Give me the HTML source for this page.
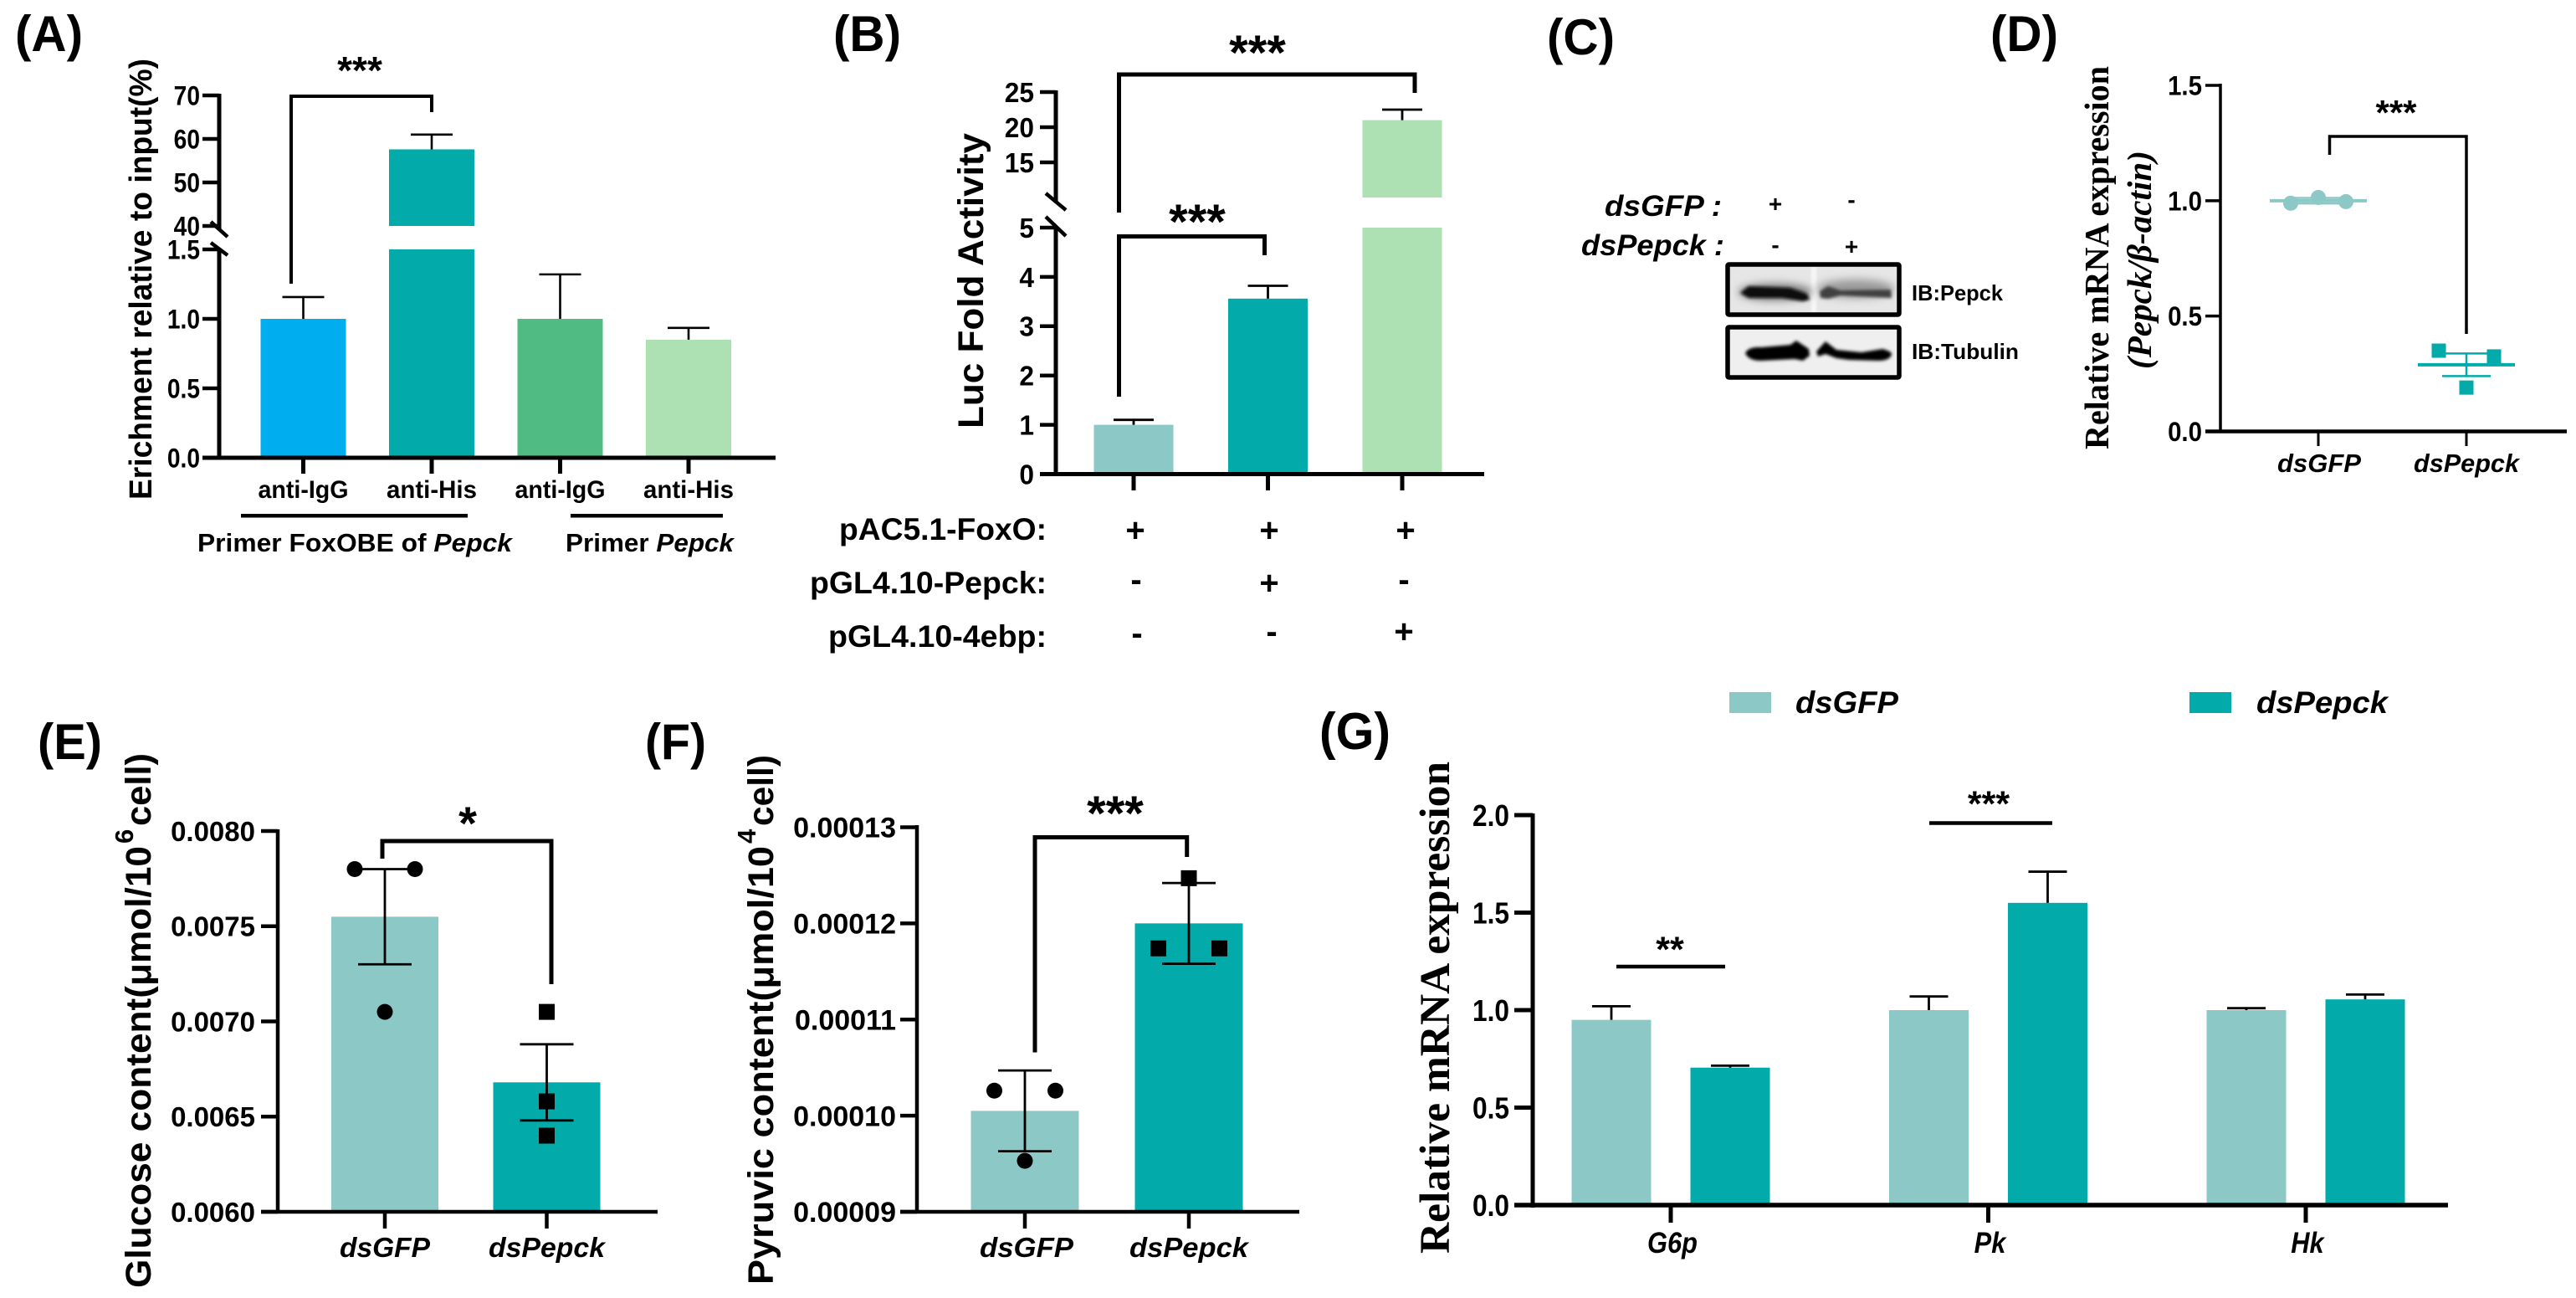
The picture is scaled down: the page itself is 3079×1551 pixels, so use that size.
<!DOCTYPE html>
<html lang="en">
<head>
<meta charset="utf-8">
<title>Pepck figure panels</title>
<style>
html,body{margin:0;padding:0;background:#fff;}
svg{display:block;}
text{font-family:"Liberation Sans","Noto Sans CJK SC",sans-serif;font-weight:700;fill:#000;}
.serif{font-family:"Liberation Serif",serif;}
</style>
</head>
<body>
<svg id="fig" xmlns="http://www.w3.org/2000/svg" width="3079" height="1551" viewBox="0 0 3079 1551">
<defs>
<filter id="blur4" x="-20%" y="-80%" width="140%" height="260%"><feGaussianBlur stdDeviation="5"/></filter>
<filter id="blur2" x="-20%" y="-80%" width="140%" height="260%"><feGaussianBlur stdDeviation="1.8"/></filter>
</defs>
<rect x="0" y="0" width="3079" height="1551" fill="#fff"/>

<!-- Panel letters -->
<text x="18" y="61" font-size="60" textLength="81" lengthAdjust="spacingAndGlyphs">(A)</text>
<text x="996" y="61" font-size="60" textLength="81" lengthAdjust="spacingAndGlyphs">(B)</text>
<text x="1849" y="65" font-size="60" textLength="81" lengthAdjust="spacingAndGlyphs">(C)</text>
<text x="2379" y="61" font-size="60" textLength="81" lengthAdjust="spacingAndGlyphs">(D)</text>
<text x="45" y="907" font-size="60" textLength="77" lengthAdjust="spacingAndGlyphs">(E)</text>
<text x="771" y="907" font-size="60" textLength="73" lengthAdjust="spacingAndGlyphs">(F)</text>
<text x="1577" y="895" font-size="62" textLength="85" lengthAdjust="spacingAndGlyphs">(G)</text>

<!-- Axis titles -->
<text transform="translate(181,597) rotate(-90)" font-size="38" textLength="527" lengthAdjust="spacingAndGlyphs">Erichment relative to input(%)</text>
<text transform="translate(1175,512) rotate(-90)" font-size="43" textLength="353" lengthAdjust="spacingAndGlyphs">Luc Fold Activity</text>
<text class="serif" transform="translate(2520,537) rotate(-90)" font-size="41" textLength="458" lengthAdjust="spacingAndGlyphs">Relative mRNA expression</text>
<text class="serif" font-style="italic" transform="translate(2571,441) rotate(-90)" font-size="41" textLength="261" lengthAdjust="spacingAndGlyphs">(Pepck/β-actin)</text>
<text transform="translate(180,1539) rotate(-90)" font-size="43" textLength="528" lengthAdjust="spacingAndGlyphs">Glucose content(μmol/10</text>
<text transform="translate(159,1008) rotate(-90)" font-size="31">6</text>
<text transform="translate(180,987) rotate(-90)" font-size="43" textLength="87" lengthAdjust="spacingAndGlyphs">cell)</text>
<text transform="translate(924,1535) rotate(-90)" font-size="43" textLength="524" lengthAdjust="spacingAndGlyphs">Pyruvic content(μmol/10</text>
<text transform="translate(903,1008) rotate(-90)" font-size="31">4</text>
<text transform="translate(924,987) rotate(-90)" font-size="43" textLength="85" lengthAdjust="spacingAndGlyphs">cell)</text>
<text class="serif" transform="translate(1732,1498) rotate(-90)" font-size="51" textLength="588" lengthAdjust="spacingAndGlyphs">Relative mRNA expression</text>

<!-- Panel A group annotation -->
<rect x="288" y="614" width="271" height="4.5" fill="#000"/>
<rect x="682" y="614" width="182" height="4.5" fill="#000"/>
<text x="236" y="659" font-size="31" textLength="376" lengthAdjust="spacingAndGlyphs">Primer FoxOBE of <tspan font-style="italic">Pepck</tspan></text>
<text x="676" y="659" font-size="31" textLength="201" lengthAdjust="spacingAndGlyphs">Primer <tspan font-style="italic">Pepck</tspan></text>

<!-- Panel B treatment table -->
<text x="1003" y="645" font-size="37" textLength="248" lengthAdjust="spacingAndGlyphs">pAC5.1-FoxO:</text>
<text x="968" y="709" font-size="37" textLength="283" lengthAdjust="spacingAndGlyphs">pGL4.10-Pepck:</text>
<text x="990" y="773" font-size="37" textLength="261" lengthAdjust="spacingAndGlyphs">pGL4.10-4ebp:</text>
<g font-size="40" text-anchor="middle">
<text x="1357" y="647">+</text>
<text x="1517" y="647">+</text>
<text x="1680" y="647">+</text>
<text x="1358" y="706">-</text>
<text x="1517" y="710">+</text>
<text x="1678" y="706">-</text>
<text x="1359" y="770">-</text>
<text x="1520" y="768">-</text>
<text x="1678" y="768">+</text>
</g>

<!-- Panel C western blot -->
<text x="1918" y="258" font-size="35" font-style="italic" textLength="140" lengthAdjust="spacingAndGlyphs">dsGFP :</text>
<text x="1890" y="305" font-size="35" font-style="italic" textLength="171" lengthAdjust="spacingAndGlyphs">dsPepck :</text>
<g font-size="28" text-anchor="middle">
<text x="2122" y="253">+</text>
<text x="2213" y="248">-</text>
<text x="2122" y="302">-</text>
<text x="2213" y="304">+</text>
</g>
<g>
<rect x="2065" y="316" width="205" height="60" fill="#e6e6e6"/>
<rect x="2165" y="318" width="6" height="56" fill="#f8f8f8" filter="url(#blur2)"/>
<ellipse cx="2122" cy="349" rx="44" ry="10" fill="#777" filter="url(#blur4)"/>
<ellipse cx="2218" cy="345" rx="46" ry="11" fill="#999" filter="url(#blur4)"/>
<path d="M2080 350 L2090 342 L2140 344 L2160 351 L2163 358 L2155 360 L2130 356 L2090 356 Z" fill="#0c0c0c" filter="url(#blur2)"/>
<path d="M2175 348 L2185 342 L2200 347 L2260 346 L2261 356 L2200 353 L2185 357 L2176 356 Z" fill="#404040" filter="url(#blur2)"/>
<rect x="2065" y="316" width="205" height="60" rx="1.5" fill="none" stroke="#000" stroke-width="5.5"/>
</g>
<g>
<rect x="2065" y="391" width="205" height="60" fill="#efefef"/>
<path d="M2086 422 Q2090 414 2105 415 L2140 412 L2147 407 L2162 417 L2163 425 L2155 431 L2145 429 L2105 431 Q2090 431 2086 422 Z" fill="#000" filter="url(#blur2)"/>
<path d="M2171 420 L2182 408 L2195 418 L2225 421 L2250 417 Q2262 420 2261 424 Q2258 431 2245 431 L2210 430 L2195 428 L2182 423 L2173 426 Z" fill="#000" filter="url(#blur2)"/>
<rect x="2065" y="391" width="205" height="60" rx="1.5" fill="none" stroke="#000" stroke-width="5.5"/>
</g>
<text x="2285" y="359" font-size="26" textLength="109" lengthAdjust="spacingAndGlyphs">IB:Pepck</text>
<text x="2285" y="429" font-size="26" textLength="128" lengthAdjust="spacingAndGlyphs">IB:Tubulin</text>

<!-- Panel G legend -->
<g>
<rect x="2067" y="827" width="50" height="25" fill="#8cc9c6"/>
<text x="2146" y="852" font-size="37" font-style="italic" textLength="123" lengthAdjust="spacingAndGlyphs">dsGFP</text>
<rect x="2617" y="827" width="50" height="25" fill="#02aba9"/>
<text x="2697" y="852" font-size="37" font-style="italic" textLength="157" lengthAdjust="spacingAndGlyphs">dsPepck</text>
</g>

<g id="plots"></g>
</svg>

<script>
// ---------- Panel A ----------
const catsA = ['anti-IgG', 'anti-His', 'anti-IgG', 'anti-His'];
const valsA = [1.0, 57.6, 1.0, 0.85];
const errA = [0.157, 3.4, 0.32, 0.085];
const ticksLowA = ['0.0', '0.5', '1.0', '1.5'];
const ticksHighA = ['40', '50', '60', '70'];
// ---------- Panel B ----------
const valsB = [1.0, 3.56, 21];
const errB = [0.1, 0.26, 1.5];
const ticksLowB = ['0', '1', '2', '3', '4', '5'];
const ticksHighB = ['15', '20', '25'];
// ---------- Panel D ----------
const catsD = ['dsGFP', 'dsPepck'];
const pointsD1 = [0.989, 1.014, 0.996];
const pointsD2 = [0.35, 0.19, 0.325];
const meansD = [1.0, 0.289];
const errD = [0.012, 0.049];
const ticksD = ['0.0', '0.5', '1.0', '1.5'];
// ---------- Panel E ----------
const catsE = ['dsGFP', 'dsPepck'];
const valsE = [0.00755, 0.00668];
const errE = [0.00025, 0.0002];
const pointsE1 = [0.0078, 0.00705, 0.0078];
const pointsE2 = [0.0064, 0.00705, 0.00658];
const ticksE = ['0.0060', '0.0065', '0.0070', '0.0075', '0.0080'];
// ---------- Panel F ----------
const catsF = ['dsGFP', 'dsPepck'];
const valsF = [0.0001005, 0.00012];
const errF = [0.0000042, 0.0000042];
const pointsF1 = [0.0001026, 0.0000953, 0.0001026];
const pointsF2 = [0.0001174, 0.0001247, 0.0001174];
const ticksF = ['0.00009', '0.00010', '0.00011', '0.00012', '0.00013'];
// ---------- Panel G ----------
const catsG = ['G6p', 'Pk', 'Hk'];
const valsGfp = [0.95, 1.0, 1.0];
const valsPepck = [0.705, 1.55, 1.055];
const errGfp = [0.07, 0.07, 0.01];
const errPepck = [0.01, 0.16, 0.025];
const ticksG = ['0.0', '0.5', '1.0', '1.5', '2.0'];

const NS = 'http://www.w3.org/2000/svg';
const root = document.getElementById('plots');
const LIGHT = '#8cc9c6', TEAL = '#02aba9', BLUE = '#00aeef', GREEN = '#50bc84', PALE = '#ade0b2';

function make(tag, attrs, name, parent) {
  const el = document.createElementNS(NS, tag);
  
  
  for (const k in attrs) el.setAttribute(k, attrs[k]);
  (parent || root).appendChild(el);
  return el;
}
function linear(d0, d1, r0, r1) { return v => r0 + (v - d0) * (r1 - r0) / (d1 - d0); }
function line(x1, y1, x2, y2, w, name, color) {
  return make('line', {x1: x1, y1: y1, x2: x2, y2: y2, stroke: color || '#000', 'stroke-width': w}, name);
}
function label(str, x, y, size, name, opts) {
  const o = opts || {};
  const attrs = {x: x, y: y, 'font-size': size, 'text-anchor': o.anchor || 'middle'};
  if (o.italic) attrs['font-style'] = 'italic';
  if (o.len) { attrs.textLength = o.len; attrs.lengthAdjust = 'spacingAndGlyphs'; }
  const el = make('text', attrs, name);
  el.textContent = str;
  if (o.squash) {
    el.setAttribute('textLength', el.getComputedTextLength() * o.squash);
    el.setAttribute('lengthAdjust', 'spacingAndGlyphs');
  }
  return el;
}
function bar(x, w, yTop, yBottom, color, name) {
  return make('rect', {x: x - w / 2, y: Math.min(yTop, yBottom), width: w, height: Math.abs(yBottom - yTop), fill: color}, name);
}
function bracket(x1, y1, yTop, x2, y2, w, name) {
  return make('path', {d: 'M' + x1 + ' ' + y1 + 'V' + yTop + 'H' + x2 + 'V' + y2, fill: 'none', stroke: '#000', 'stroke-width': w}, name);
}
function yTicks(list, scale, xAxis, len, w, size, gap, prefix, squash) {
  list.forEach(t => {
    const y = scale(Number(t));
    line(xAxis - len, y, xAxis, y, w, prefix + '-tick-' + t);
    label(t, xAxis - len - gap, y + size * 0.36, size, prefix + '-tick-label-' + t, {anchor: 'end', squash: squash});
  });
}
function errorBar(x, yA, yB, capHalf, w, name) {
  line(x, yA, x, yB, w, name + '-stem');
  line(x - capHalf, yB, x + capHalf, yB, w, name + '-cap');
}
function dot(x, y, r, color, name) { return make('circle', {cx: x, cy: y, r: r, fill: color}, name); }
function square(x, y, s, color, name) { return make('rect', {x: x - s / 2, y: y - s / 2, width: s, height: s, fill: color}, name); }

// ===== Panel A =====
(function () {
  const low = linear(0, 1.5, 547, 298), high = linear(40, 70, 270, 114);
  const y = v => v <= 1.5 ? low(v) : high(v);
  const xA = i => 362.5 + i * 153.5;
  const colors = [BLUE, TEAL, GREEN, PALE];
  valsA.forEach((v, i) => {
    if (v > 1.5) {
      bar(xA(i), 102, low(1.5), low(0), colors[i], 'bar-a-lower-' + i);
      bar(xA(i), 102, high(v), high(40), colors[i], 'bar-a-upper-' + i);
    } else {
      bar(xA(i), 102, low(v), low(0), colors[i], 'bar-a-' + i);
    }
    errorBar(xA(i), y(v), y(v + errA[i]), 25, 2.6, 'error-a-' + i);
    line(xA(i), 547, xA(i), 566, 5, 'x-tick-a-' + i);
    label(catsA[i], xA(i), 595, 30, 'x-label-a-' + i, {len: 108});
  });
  line(262, 112, 262, 274, 5, 'y-axis-a-upper');
  line(262, 297, 262, 549, 5, 'y-axis-a-lower');
  line(242, 547, 927, 547, 5, 'x-axis-a');
  line(252, 265, 272, 283, 4.5, 'axis-break-a-1');
  line(252, 290, 272, 305, 4.5, 'axis-break-a-2');
  yTicks(ticksLowA, low, 262, 20, 4.5, 32, 3, 'y-a-low', 0.88);
  yTicks(ticksHighA, high, 262, 20, 4.5, 32, 3, 'y-a-high', 0.88);
  bracket(348, 339, 115, 516, 134, 4, 'bracket-a');
  label('***', 430, 100, 46, 'sig-a');
})();

// ===== Panel B =====
(function () {
  const low = linear(0, 5, 566.5, 272), high = linear(15, 25, 194, 110);
  const y = v => v <= 5 ? low(v) : high(v);
  const xB = i => 1355 + i * 160.5;
  const colors = [LIGHT, TEAL, PALE];
  valsB.forEach((v, i) => {
    if (v > 5) {
      bar(xB(i), 95, low(5), low(0), colors[i], 'bar-b-lower-' + i);
      bar(xB(i), 95, high(v), high(10), colors[i], 'bar-b-upper-' + i);
    } else {
      bar(xB(i), 95, low(v), low(0), colors[i], 'bar-b-' + i);
    }
    errorBar(xB(i), y(v), y(v + errB[i]), 24, 2.8, 'error-b-' + i);
    line(xB(i), 566.5, xB(i), 586, 5, 'x-tick-b-' + i);
  });
  line(1262, 108, 1262, 241, 5, 'y-axis-b-upper');
  line(1262, 270, 1262, 569, 5, 'y-axis-b-lower');
  line(1243, 566.5, 1774, 566.5, 5, 'x-axis-b');
  line(1250, 231, 1274, 251, 4.5, 'axis-break-b-1');
  line(1250, 259, 1274, 282, 4.5, 'axis-break-b-2');
  yTicks(ticksLowB, low, 1262, 19, 4.5, 33, 7, 'y-b-low', 0.96);
  yTicks(ticksHighB, high, 1262, 19, 4.5, 33, 7, 'y-b-high', 0.96);
  bracket(1337.5, 254, 89, 1691, 111, 5, 'bracket-b-top');
  bracket(1337.5, 474, 282.5, 1511.5, 305, 5, 'bracket-b-inner');
  label('***', 1503, 83, 58, 'sig-b-top');
  label('***', 1431, 285, 58, 'sig-b-inner');
})();

// ===== Panel D =====
(function () {
  const y = linear(0, 1.5, 515.5, 102);
  const xD = i => 2771 + i * 177;
  [pointsD1, pointsD2].forEach((pts, g) => {
    pts.forEach((p, j) => {
      const px = xD(g) + (j - 1) * 33;
      if (g === 0) dot(px, y(p), 9, LIGHT, 'point-d-dsgfp-' + j);
      else square(px, y(p), 17, TEAL, 'point-d-dspepck-' + j);
    });
    const color = g === 0 ? LIGHT : TEAL;
    line(xD(g) - 58, y(meansD[g]), xD(g) + 58, y(meansD[g]), 4, 'mean-d-' + g, color);
    line(xD(g), y(meansD[g] - errD[g]), xD(g), y(meansD[g] + errD[g]), 2.5, 'error-d-stem-' + g, color);
    line(xD(g) - 29, y(meansD[g] + errD[g]), xD(g) + 29, y(meansD[g] + errD[g]), 2.5, 'error-d-cap-high-' + g, color);
    line(xD(g) - 29, y(meansD[g] - errD[g]), xD(g) + 29, y(meansD[g] - errD[g]), 2.5, 'error-d-cap-low-' + g, color);
    line(xD(g), 515.5, xD(g), 533, 3, 'x-tick-d-' + g);
    label(catsD[g], xD(g) + (g === 0 ? 1 : 0), 564, 31, 'x-label-d-' + g, {italic: true, len: g === 0 ? 100 : 126});
  });
  line(2654, 100, 2654, 517.5, 3.5, 'y-axis-d');
  line(2636, 515.5, 3068, 515.5, 4.5, 'x-axis-d');
  yTicks(ticksD, y, 2654, 18, 3.5, 32, 4, 'y-d', 0.92);
  bracket(2784.5, 185, 163, 2948, 399, 3.5, 'bracket-d');
  label('***', 2864, 149, 42, 'sig-d');
})();

// ===== Panel E =====
(function () {
  const y = linear(0.006, 0.008, 1448, 993);
  const xE = i => 460 + i * 193.5;
  const colors = [LIGHT, TEAL];
  valsE.forEach((v, i) => {
    bar(xE(i), 128, y(v), y(0.006), colors[i], 'bar-e-' + catsE[i]);
    line(xE(i), y(v + errE[i]), xE(i), y(v - errE[i]), 2.8, 'error-e-stem-' + i);
    line(xE(i) - 32, y(v + errE[i]), xE(i) + 32, y(v + errE[i]), 2.8, 'error-e-cap-high-' + i);
    line(xE(i) - 32, y(v - errE[i]), xE(i) + 32, y(v - errE[i]), 2.8, 'error-e-cap-low-' + i);
    line(xE(i), 1448, xE(i), 1468, 4.5, 'x-tick-e-' + i);
    label(catsE[i], xE(i), 1502, 33, 'x-label-e-' + i, {italic: true, len: i === 0 ? 108 : 139});
  });
  pointsE1.forEach((p, j) => dot(xE(0) + (j - 1) * 36, y(p), 9.5, '#000', 'point-e-dsgfp-' + j));
  pointsE2.forEach((p, j) => square(xE(1), y(p), 19, '#000', 'point-e-dspepck-' + j));
  line(332, 991, 332, 1450, 4.5, 'y-axis-e');
  line(312, 1448, 786, 1448, 4.5, 'x-axis-e');
  yTicks(ticksE, y, 332, 20, 4.5, 33, 7, 'y-e');
  bracket(457, 1026, 1005, 659, 1176, 5, 'bracket-e');
  label('*', 559, 1003, 56, 'sig-e');
})();

// ===== Panel F =====
(function () {
  const y = linear(0.00009, 0.00013, 1448, 988.5);
  const xF = i => 1225 + i * 196;
  const colors = [LIGHT, TEAL];
  valsF.forEach((v, i) => {
    bar(xF(i), 129, y(v), y(0.00009), colors[i], 'bar-f-' + catsF[i]);
    line(xF(i), y(v + errF[i]), xF(i), y(v - errF[i]), 2.8, 'error-f-stem-' + i);
    line(xF(i) - 32, y(v + errF[i]), xF(i) + 32, y(v + errF[i]), 2.8, 'error-f-cap-high-' + i);
    line(xF(i) - 32, y(v - errF[i]), xF(i) + 32, y(v - errF[i]), 2.8, 'error-f-cap-low-' + i);
    line(xF(i), 1448, xF(i), 1468, 4.5, 'x-tick-f-' + i);
    label(catsF[i], xF(i) + (i === 0 ? 2 : 0), 1502, 33, 'x-label-f-' + i, {italic: true, len: i === 0 ? 112 : 142});
  });
  pointsF1.forEach((p, j) => dot(xF(0) + (j - 1) * 36.5, y(p), 9.5, '#000', 'point-f-dsgfp-' + j));
  pointsF2.forEach((p, j) => square(xF(1) + (j - 1) * 36.5, y(p), 19, '#000', 'point-f-dspepck-' + j));
  line(1096, 986, 1096, 1450, 4.5, 'y-axis-f');
  line(1076, 1448, 1553, 1448, 4.5, 'x-axis-f');
  yTicks(ticksF, y, 1096, 20, 4.5, 34, 5, 'y-f');
  bracket(1237, 1257.5, 1000.5, 1418.7, 1024, 5, 'bracket-f');
  label('***', 1333, 992, 58, 'sig-f');
})();

// ===== Panel G =====
(function () {
  const y = linear(0, 2, 1440, 974);
  const xG = i => 1997 + i * 379.5;
  catsG.forEach((c, i) => {
    const a = xG(i) - 71, b = xG(i) + 71;
    bar(a, 95, y(valsGfp[i]), y(0), LIGHT, 'bar-g-dsgfp-' + c);
    bar(b, 95, y(valsPepck[i]), y(0), TEAL, 'bar-g-dspepck-' + c);
    errorBar(a, y(valsGfp[i]), y(valsGfp[i] + errGfp[i]), 23, 2.8, 'error-g-dsgfp-' + c);
    errorBar(b, y(valsPepck[i]), y(valsPepck[i] + errPepck[i]), 23, 2.8, 'error-g-dspepck-' + c);
    line(xG(i), 1440, xG(i), 1461, 5, 'x-tick-g-' + c);
    label(c, xG(i) + 2, 1497, 35, 'x-label-g-' + c, {italic: true, squash: 0.88});
  });
  line(1832, 972, 1832, 1443, 5, 'y-axis-g');
  line(1810, 1440, 2926, 1440, 5.5, 'x-axis-g');
  yTicks(ticksG, y, 1832, 22, 5, 36, 6, 'y-g', 0.88);
  line(1932, 1155, 2062, 1155, 4.5, 'sig-line-g-g6p');
  line(2306, 983.5, 2453, 983.5, 4.5, 'sig-line-g-pk');
  label('**', 1996, 1149, 43, 'sig-g-g6p');
  label('***', 2377, 975, 43, 'sig-g-pk');
})();
</script>
</body>
</html>
